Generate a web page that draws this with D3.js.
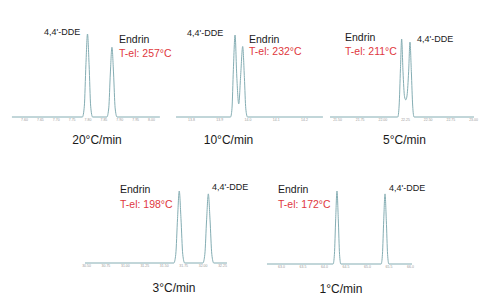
<!DOCTYPE html>
<html>
<head>
<meta charset="utf-8">
<script src="https://cdn.jsdelivr.net/npm/d3@7"></script>
<style>
  body { margin: 0; background: #fff; }
  svg { display: block; font-family: "Liberation Sans", Arial, sans-serif; }
</style>
</head>
<body>
<svg id="chart" width="484" height="304"></svg>
<script>
// heating rates and elution temperatures of endrin
const rates = ["20°C/min", "10°C/min", "5°C/min", "3°C/min", "1°C/min"]
const elutionTemps = ["257°C", "232°C", "211°C", "198°C", "172°C"]

// retention time ticks (min) of each chromatogram
const ticks20 = [7.60, 7.65, 7.70, 7.75, 7.80, 7.85, 7.90, 7.95, 8.00]
const ticks10 = [13.8, 13.9, 14.0, 14.1, 14.2]
const ticks5 = [21.50, 21.75, 22.00, 22.25, 22.50, 22.75, 23.00]
const ticks3 = [30.50, 30.75, 31.00, 31.25, 31.50, 31.75, 32.00, 32.25]
const ticks1 = [63.0, 63.5, 64.0, 64.5, 65.0, 65.5, 66.0]

// traces: [retention time, relative intensity %]
const trace20 = [[7.562, 0], [7.784, 0], [7.790, 13], [7.795, 63], [7.800, 100], [7.805, 63], [7.810, 13], [7.816, 0],
  [7.861, 0], [7.867, 11], [7.872, 53], [7.877, 84], [7.882, 53], [7.887, 11], [7.893, 0], [8.028, 0]]
const trace10 = [[13.747, 0], [13.940, 0], [13.945, 10], [13.950, 58], [13.956, 100], [13.962, 50], [13.969, 16],
  [13.976, 52], [13.983, 86], [13.989, 48], [13.994, 10], [14.000, 0], [14.267, 0]]
const trace5 = [[21.423, 0], [22.170, 0], [22.185, 14], [22.200, 62], [22.213, 100], [22.228, 58], [22.245, 26],
  [22.259, 22], [22.273, 28], [22.290, 58], [22.305, 96], [22.320, 58], [22.335, 14], [22.350, 0], [23.011, 0]]
const trace3 = [[30.487, 0], [31.630, 0], [31.655, 12], [31.678, 62], [31.700, 100], [31.722, 62], [31.745, 12], [31.770, 0],
  [32.004, 0], [32.029, 12], [32.052, 60], [32.074, 96], [32.096, 60], [32.119, 12], [32.144, 0], [32.314, 0]]
const trace1 = [[62.674, 0], [64.212, 0], [64.242, 13], [64.272, 62], [64.302, 100], [64.332, 62], [64.362, 13], [64.392, 0],
  [65.329, 0], [65.359, 13], [65.389, 60], [65.419, 96], [65.449, 60], [65.479, 13], [65.509, 0], [66.047, 0]]

const traces = [trace20, trace10, trace5, trace3, trace1]
const tickSets = [ticks20, ticks10, ticks5, ticks3, ticks1]
const tickFormats = [".2f", ".1f", ".2f", ".2f", ".1f"]

// panel layout (pixels)
const panels = [
  {x0: 24, x1: 151, yBase: 117, yTop: 34, dde: [44, 35], endrin: [119, 43], tel: 57, rate: [97, 143.5]},
  {x0: 191, x1: 304, yBase: 117, yTop: 35, dde: [187, 36], endrin: [249, 43], tel: 55, rate: [228.5, 143.5]},
  {x0: 337, x1: 473, yBase: 117, yTop: 39, dde: [417, 42], endrin: [345, 41], tel: 55, rate: [404.5, 143.5]},
  {x0: 86, x1: 222, yBase: 263, yTop: 191, dde: [212, 190], endrin: [120, 193], tel: 207.5, rate: [174, 291.5]},
  {x0: 281, x1: 410, yBase: 264, yTop: 191, dde: [389, 190.5], endrin: [278, 193], tel: 207.5, rate: [341, 293]}
]

const svg = d3.select('#chart')

panels.forEach((p, i) => {
  const ticks = tickSets[i]
  const xScale = d3.scaleLinear()
    .domain([ticks[0], ticks[ticks.length - 1]])
    .range([p.x0, p.x1])
  const yScale = d3.scaleLinear()
    .domain([0, 100])
    .range([p.yBase, p.yTop])

  const g = svg.append('g').attr('class', 'panel')

  const xAxis = g.append('g')
    .attr('transform', `translate(0, ${p.yBase + 0.5})`)
    .call(d3.axisBottom(xScale).tickValues(ticks).tickSize(0).tickPadding(1.5).tickFormat(d3.format(tickFormats[i])))
  xAxis.select('.domain').remove()
  xAxis.selectAll('text')
    .style('font-size', '3.5px')
    .style('font-family', '"Liberation Sans", Arial, sans-serif')
    .attr('fill', '#9a9a9a')

  const line = d3.line()
    .x(d => xScale(d[0]))
    .y(d => yScale(d[1]))
    .curve(d3.curveMonotoneX)

  g.append('path')
    .datum(traces[i])
    .attr('d', line)
    .attr('fill', 'none')
    .attr('stroke', '#84adb3')
    .attr('stroke-width', 1)

  g.append('text')
    .attr('x', p.dde[0]).attr('y', p.dde[1])
    .style('font-size', '9px').attr('fill', '#1a1a1a')
    .text("4,4'-DDE")

  g.append('text')
    .attr('x', p.endrin[0]).attr('y', p.endrin[1])
    .style('font-size', '10.5px').attr('fill', '#1a1a1a')
    .text('Endrin')

  g.append('text')
    .attr('x', p.endrin[0]).attr('y', p.tel)
    .style('font-size', '10.5px').attr('fill', '#e0383d')
    .text(`T-el: ${elutionTemps[i]}`)

  g.append('text')
    .attr('x', p.rate[0]).attr('y', p.rate[1])
    .attr('text-anchor', 'middle')
    .style('font-size', '12px').attr('fill', '#1a1a1a')
    .text(rates[i])
})
</script>
</body>
</html>
